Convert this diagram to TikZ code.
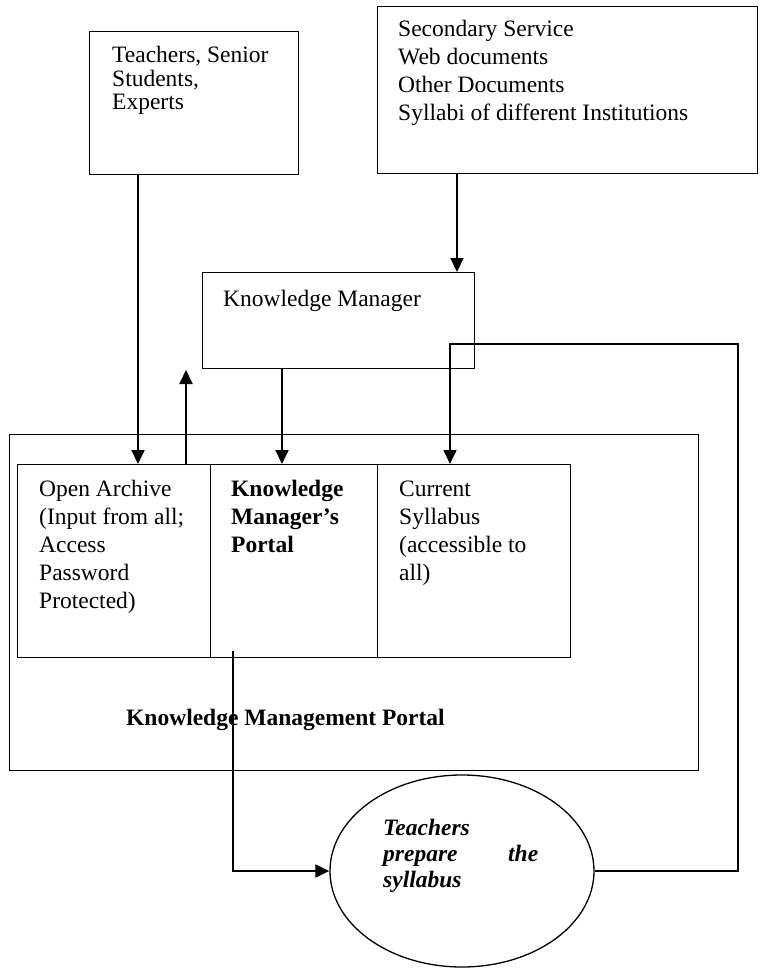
\documentclass[tikz,border=0pt]{standalone}
\usepackage{fontspec}
\setmainfont{Liberation Serif}
\usetikzlibrary{arrows.meta,shapes.geometric}
\begin{document}
\begin{tikzpicture}[x=1pt,y=-1pt,
  box/.style={draw,line width=1.3pt,inner sep=0,anchor=north west},
  txt/.style={anchor=base west,align=left,inner sep=0},
  arr/.style={line width=2pt,-{Triangle[length=14pt,width=13pt]}},
  ret/.style={line width=1.5pt,-{Triangle[length=14pt,width=13pt]}}]
\useasboundingbox (0,0) rectangle (769,968);
% boxes
\node[box,minimum width=209pt,minimum height=143pt] (teach) at (89,31) {};
\node[box,minimum width=380pt,minimum height=167pt] (sec) at (377,6) {};
\node[box,minimum width=272pt,minimum height=96pt] (km) at (202,272) {};
\node[box,minimum width=689pt,minimum height=336pt] (portal) at (9,434) {};
\node[box,minimum width=193pt,minimum height=193pt] (oa) at (17,464) {};
\node[box,minimum width=167pt,minimum height=193pt] (kmp) at (210,464) {};
\node[box,minimum width=193pt,minimum height=193pt] (cs) at (377,464) {};
\node[draw,line width=1.3pt,ellipse,minimum width=264pt,minimum height=192pt,inner sep=0] (ell) at (462,871) {};
% texts (anchor = baseline of the last line)
\node[txt,font=\fontsize{23.5}{23.5}\selectfont] (teacht) at (112,110) {Teachers, Senior\\Students,\\Experts};
\node[txt,font=\fontsize{23.5}{28}\selectfont] (sect) at (398,121) {Secondary Service\\Web documents\\Other Documents\\Syllabi of different Institutions};
\node[txt,font=\fontsize{23.5}{28}\selectfont] (kmt) at (223,306) {Knowledge Manager};
\node[txt,font=\fontsize{23.5}{28}\selectfont] (oat) at (39,608) {Open Archive\\(Input from all;\\Access\\Password\\Protected)};
\node[txt,font=\fontsize{23.5}{28}\selectfont\bfseries] (kmpt) at (231,552) {Knowledge\\Manager’s\\Portal};
\node[txt,font=\fontsize{23.5}{28}\selectfont] (cst) at (399,580) {Current\\Syllabus\\(accessible to\\all)};
\node[txt,font=\fontsize{23.5}{28}\selectfont\bfseries] (portalt) at (126,725) {Knowledge Management Portal};
% text width node: anchor = baseline of the first line
\node[txt,text width=155pt,font=\fontsize{23.5}{26}\selectfont\bfseries\itshape] (ellt) at (383,835) {Teachers\\prepare\hfill the\\syllabus};
% helper coordinates
\coordinate (x138) at (138,0);
\coordinate (x186) at (186,0);
\coordinate (x282) at (282,0);
\coordinate (x457) at (457,0);
\coordinate (x450) at (450,0);
\coordinate (upend) at (186,370);
\coordinate (kmpout) at (233,651);
\coordinate (r1) at (738,344);
% connectors
\draw[arr] (teach.south -| x138) -- (oa.north -| x138);
\draw[arr] (oa.north -| x186) -- (upend);
\draw[arr] (sec.south -| x457) -- (km.north -| x457);
\draw[arr] (km.south -| x282) -- (kmp.north -| x282);
\draw[arr] (kmpout) |- (ell.west);
\draw[ret] (ell.east) -| (r1) -| (cs.north -| x450);
\end{tikzpicture}
\end{document}
